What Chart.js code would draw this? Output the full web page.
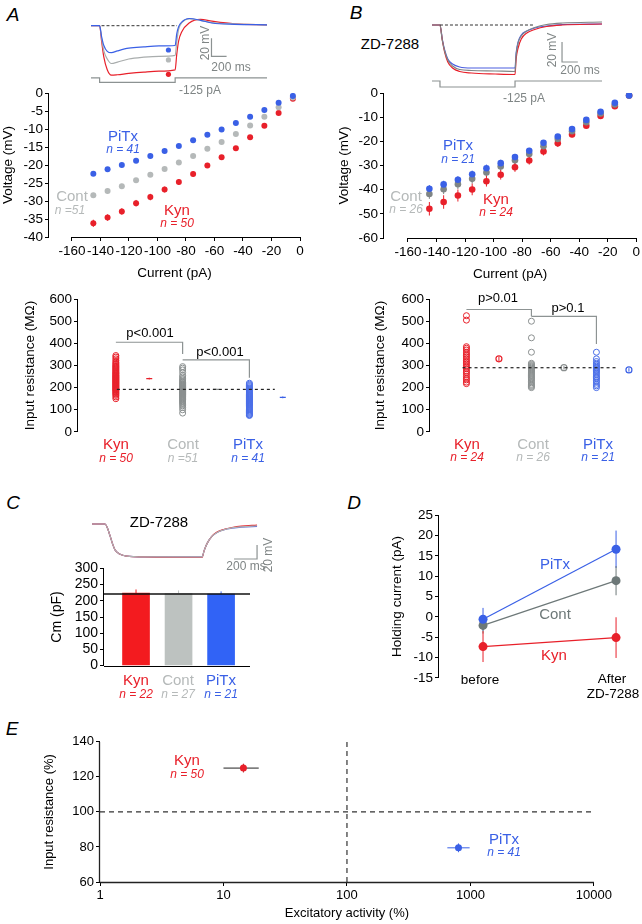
<!DOCTYPE html>
<html><head><meta charset="utf-8">
<script src="https://cdn.jsdelivr.net/npm/chart.js@4.4.0/dist/chart.umd.min.js"></script>
<style>
html,body{margin:0;padding:0;background:#fff;overflow:hidden;width:642px;height:924px}
#fig{position:relative;width:642px;height:924px;font-family:'Liberation Sans',Arial,sans-serif}
#fig canvas{position:absolute}
.t{position:absolute;transform:translate(-50%,-50%);white-space:nowrap;line-height:1}
</style></head><body><div id="fig"></div>
<script>
// ---------------- DATA ----------------
const CURRENT = [-145,-135,-125,-115,-105,-95,-85,-75,-65,-55,-45,-35,-25,-15,-5];
const IV_X_TICKS = [-160,-140,-120,-100,-80,-60,-40,-20,0];
const A_IV_Y_TICKS = [-40,-35,-30,-25,-20,-15,-10,-5,0];
const A_PITX_V = [-22.4,-21.2,-20.0,-18.8,-17.5,-16.1,-14.7,-13.1,-11.6,-10.1,-8.3,-6.6,-4.7,-2.7,-0.8];
const A_CONT_V = [-28.4,-27.2,-25.9,-24.2,-22.7,-21.1,-19.3,-17.5,-15.5,-13.6,-11.4,-9.0,-6.6,-3.9,-1.2];
const A_KYN_V  = [-36.2,-34.6,-32.9,-30.6,-28.9,-26.8,-24.7,-22.5,-20.1,-17.8,-15.3,-12.3,-9.1,-5.5,-1.6];
const A_PITX_E = [0.6,0.6,0.6,0.6,0.6,0.5,0.5,0.5,0.5,0.4,0.4,0.4,0.3,0.3,0.2];
const A_CONT_E = [0.7,0.7,0.7,0.6,0.6,0.6,0.6,0.5,0.5,0.5,0.4,0.4,0.3,0.3,0.2];
const A_KYN_E  = [1.0,0.9,0.9,0.9,0.9,0.8,0.8,0.7,0.7,0.6,0.6,0.5,0.5,0.4,0.3];

const B_IV_Y_TICKS = [-60,-50,-40,-30,-20,-10,0];
const B_PITX_V = [-39.6,-37.8,-35.9,-33.6,-31.1,-29.0,-26.5,-23.9,-20.6,-18.0,-14.9,-11.1,-7.7,-4.0,-1.0];
const B_CONT_V = [-41.8,-39.8,-37.7,-35.5,-32.9,-30.4,-27.8,-25.2,-22.0,-19.0,-15.8,-12.1,-8.4,-4.7,-1.0];
const B_KYN_V  = [-47.9,-45.1,-42.4,-39.9,-36.5,-33.8,-30.7,-27.9,-24.2,-20.8,-17.1,-13.5,-9.5,-5.4,-1.0];
const B_PITX_E = [1.5,1.5,1.5,1.5,1.5,1.4,1.3,1.2,1.1,1.0,1.0,0.9,0.8,0.6,0.4];
const B_CONT_E = [2.0,2.0,2.0,2.0,1.8,1.7,1.6,1.5,1.3,1.2,1.1,1.0,0.8,0.6,0.4];
const B_KYN_E  = [2.8,2.8,2.5,2.4,2.2,2.0,1.9,1.7,1.6,1.4,1.2,1.0,0.9,0.7,0.5];

const RIN_TICKS = [0,100,200,300,400,500,600];
const A_RIN_KYN = [345,338,330,322,315,310,305,300,296,292,288,284,280,276,272,268,265,262,258,255,252,249,246,243,240,237,234,231,228,225,222,219,216,213,210,207,204,201,198,195,192,189,186,182,178,174,170,165,158,150];
const A_RIN_CONT = [295,288,280,268,255,248,240,235,230,225,222,218,215,212,210,207,205,202,200,198,196,194,192,190,188,186,184,182,180,178,176,174,172,170,168,165,162,160,157,154,150,147,144,140,135,130,125,118,110,100,85];
const A_RIN_PITX = [220,215,210,205,200,196,192,188,184,180,176,172,168,165,162,159,156,153,150,147,144,141,138,135,132,129,126,123,120,116,112,108,104,100,96,92,88,84,80,77,74];
const A_RIN_MEAN = [241,192,156];
const A_RIN_SEM = [4,3,4];
const A_RIN_REF = 192;
const A_BRACKET1 = [[1,405],[3,405],[3,352]];
const A_BRACKET2 = [[3,325],[5,325],[5,245]];

const B_RIN_KYN = [525,505,385,378,370,360,352,345,338,330,322,315,308,300,292,285,275,268,260,250,242,235,225,218];
const B_RIN_CONT = [500,425,360,310,305,300,296,292,288,284,280,275,270,265,260,255,250,245,240,235,228,222,215,210,205,200];
const B_RIN_PITX = [360,330,318,310,303,297,292,287,282,277,272,265,258,250,245,240,232,225,215,208,200];
const B_RIN_MEAN = [330,290,280];
const B_RIN_SEM = [10,8,8];
const B_RIN_REF = 290;
const B_BRACKET1 = [[1,553],[3,553],[3,522]];
const B_BRACKET2 = [[3,522],[5,522],[5,397]];

const CM_GROUPS = ['Kyn','Cont','PiTx'];
const CM_VALUES = [224,222,221];
const CM_SEM = [11,10,8];
const CM_REF = 221;
const CM_TICKS = [0,50,100,150,200,250,300];

const HOLD_X = [0,1];
const HOLD_PITX = [-0.6,16.6];
const HOLD_CONT = [-2.1,8.9];
const HOLD_KYN = [-7.3,-5.1];
const HOLD_PITX_E = [2.8,4.6];
const HOLD_CONT_E = [2.0,3.6];
const HOLD_KYN_E = [3.8,5.0];
const HOLD_TICKS = [-15,-10,-5,0,5,10,15,20,25];

const E_X_TICKS = [1,10,100,1000,10000];
const E_Y_TICKS = [60,80,100,120,140];
const E_KYN = {x:14.5, y:125, xLo:10, xHi:19.3, yErr:2.5};
const E_PITX = {x:800, y:79.5, xLo:650, xHi:985, yErr:2.5};

// traces (time in ms, voltage in mV relative to rest)
const A_T = [0,114,140,170,215,270,350,500,700,900,1114,1135,1160,1200,1300,1450,1600,1900,2330];
const A_TR_PITX = [0,0,-12,-22,-28.5,-30,-28,-25,-23.5,-22.5,-22,-9,-1,4,8,6,3,1.5,1];
const A_TR_CONT = [0,0,-14,-28,-37,-42,-40.5,-37,-35,-34,-33,-18,-4,3,7.5,6,3.5,2,1];
const A_TR_KYN  = [0,0,-17,-35,-49,-55,-54.5,-53,-51.5,-50.5,-49,-32,-17,-7,3,7,5,2,1];
const A_DOTS_T = 1025;
const A_DOTS_V = [-27,-38,-54];
const A_STEP_T = [0,114,114,1114,1114,2330];
const STEP_I = [0,0,-125,-125,0,0];

const B_T = [0,101,130,160,200,260,350,500,800,1051,1065,1090,1130,1200,1300,1450,1650,2152];
const B_TR_PITX = [0,0,-14,-25,-34,-39,-42,-43,-43,-43,-28,-17,-10,-6,-3,-1,0.5,1];
const B_TR_CONT = [0,0,-15,-26,-35,-41,-44.5,-45.5,-46,-46.5,-30,-18,-11,-6,-2.5,0.5,2,3];
const B_TR_KYN  = [0,0,-15,-27,-37,-43,-46.5,-48,-49,-49.5,-34,-23,-14,-8,-4.5,-1.5,0,1];
const B_STEP_T = [0,101,101,1051,1051,2152];

const C_T = [0,113,135,157,180,200,240,300,450,957,975,1000,1040,1087,1150,1217,1300,1435];
const C_TR_PITX = [0,0,-6,-17,-29,-37,-43,-46,-47,-47,-38,-28,-18,-12,-8,-6,-4.5,-3.5];
const C_TR_CONT = [0,0,-6,-17,-29,-37,-43,-46,-47,-47,-38,-28,-18,-12,-8,-5.5,-4,-2.5];
const C_TR_KYN  = [0,0,-6,-17,-29,-37,-43,-46,-47,-47.5,-38,-28,-18,-11.5,-7.5,-5,-3,-1.5];

// ---------------- STYLE ----------------
const RED='#e8202a', BLUE='#3a60e6', GRAYL='#b5b9b9', GRAYM='#7f8585', GRAYD='#6d7878', SCALEC='#8c9292';
const BAR_COLORS = ['#f31b1f','#bdc2c0','#3163f6'];
Chart.defaults.font.family = "'Liberation Sans', Arial, Helvetica, sans-serif";
Chart.defaults.font.size = 13.5;
Chart.defaults.color = '#000';
const fig = document.getElementById('fig');

const axisLines = { id:'axisLines', afterDatasetsDraw(chart, args, opts){
  const L = opts.lines; if(!L) return;
  const ctx = chart.ctx, ca = chart.chartArea;
  ctx.save(); ctx.strokeStyle = opts.color || '#000'; ctx.lineWidth = opts.width || 1;
  L.forEach(l => { const s = chart.scales[l.scale]; ctx.beginPath();
    if (s.isHorizontal()) { const y = Math.round(ca.bottom)+0.5; ctx.moveTo(s.getPixelForValue(l.from), y); ctx.lineTo(s.getPixelForValue(l.to), y); }
    else { const x = Math.round(ca.left)-0.5; ctx.moveTo(x, s.getPixelForValue(l.from)); ctx.lineTo(x, s.getPixelForValue(l.to)); }
    ctx.stroke(); });
  ctx.restore(); } };

const errBars = { id:'errBars', beforeDatasetsDraw(chart){
  const ctx = chart.ctx;
  chart.data.datasets.forEach((ds,i) => {
    if (!ds.yErr && !ds.xLo && !ds.yErrUp) return;
    const meta = chart.getDatasetMeta(i); const xs = chart.scales[meta.xAxisID], ys = chart.scales[meta.yAxisID];
    ctx.save(); ctx.lineWidth = ds.errWidth || 1;
    ds.data.forEach((p,j) => { const x = xs.getPixelForValue(p.x), y = ys.getPixelForValue(p.y);
      if (ds.xLo) { ctx.strokeStyle = ds.xErrColor || ds.borderColor; ctx.beginPath(); ctx.moveTo(xs.getPixelForValue(ds.xLo[j]), y); ctx.lineTo(xs.getPixelForValue(ds.xHi[j]), y); ctx.stroke(); }
      const ec = ds.errColor || ds.borderColor;
      ctx.strokeStyle = Array.isArray(ec) ? ec[j] : ec; ctx.beginPath();
      if (ds.yErr) { ctx.moveTo(x, ys.getPixelForValue(p.y - ds.yErr[j])); ctx.lineTo(x, ys.getPixelForValue(p.y + ds.yErr[j])); }
      if (ds.yErrUp) { ctx.moveTo(x, y); ctx.lineTo(x, ys.getPixelForValue(p.y + ds.yErrUp[j])); }
      ctx.stroke(); });
    ctx.restore(); }); } };

function mk(g, type, datasets, scales, lines, lineOpts){
  const c = document.createElement('canvas'); c.width = g.W; c.height = g.H;
  c.style.left = g.L+'px'; c.style.top = g.T+'px'; c.style.width = g.W+'px'; c.style.height = g.H+'px';
  fig.appendChild(c);
  return new Chart(c, { type, data:{datasets}, options:{ responsive:false, animation:false, devicePixelRatio:1, events:[],
    layout:{padding:g.pad||0}, plugins:{legend:{display:false}, tooltip:{enabled:false}, axisLines:Object.assign({lines:lines||[]}, lineOpts||{})}, scales },
    plugins:[axisLines, errBars] });
}
function ax(kind, min, max, ticks, title, size, fs, extra){
  const o = { type: (extra&&extra.type)||'linear', min, max, offset:false,
    afterBuildTicks: s => { s.ticks = ticks.map(v => ({value:v})); },
    afterFit: s => { if (kind==='y') s.width = size; else s.height = size; },
    ticks:{ callback: v => String(v), padding:2, autoSkip:false, maxRotation:0, minRotation:0, font:{size:fs||13.5}, color:'#000' },
    grid:{ display:true, drawOnChartArea:false, drawTicks:true, tickLength:4, color:(extra&&extra.gridColor)||'#000', offset:false },
    border:{ display:false },
    title:{ display:!!title, text:title, padding:0, font:{size:fs||13.5}, color:'#000' } };
  return o;
}
const hid = (min,max) => ({ type:'linear', display:false, min, max, offset:false, grid:{offset:false} });
const pts = (xs, ys) => xs.map((x,i) => ({x, y:ys[i]}));
const col = (x, vals) => vals.map(v => ({x, y:v}));
function txt(s, x, y, size, color, extra){
  const d = document.createElement('div'); d.className = 't'; d.textContent = s;
  d.style.left = x+'px'; d.style.top = y+'px'; d.style.fontSize = size+'px'; d.style.color = color||'#000';
  if (extra) Object.assign(d.style, extra); fig.appendChild(d);
}
const IT = {fontStyle:'italic'};
const ROT = {transform:'translate(-50%,-50%) rotate(-90deg)'};
const line = (data, color, w, dash, order) => ({ data, showLine:true, borderColor:color, backgroundColor:color, borderWidth:w||1.2, borderDash:dash||[], pointRadius:0, order:order||0, tension:0 });
const trace = (T, V, color) => ({ data:pts(T,V), showLine:true, borderColor:color, borderWidth:1.2, pointRadius:0, cubicInterpolationMode:'monotone', order:2 });

// ---------------- PANEL A traces ----------------
mk({L:87,T:10,W:184,H:80}, 'scatter', [
  line([{x:139,y:0},{x:1139,y:0}], '#333', 1, [3,2], 0),
  trace(A_T, A_TR_PITX, BLUE), trace(A_T, A_TR_CONT, '#a9adad'), trace(A_T, A_TR_KYN, RED),
  {data:[{x:A_DOTS_T,y:A_DOTS_V[0]}], backgroundColor:BLUE, borderWidth:0, pointRadius:2.6, order:0},
  {data:[{x:A_DOTS_T,y:A_DOTS_V[1]}], backgroundColor:GRAYL, borderWidth:0, pointRadius:2.6, order:0},
  {data:[{x:A_DOTS_T,y:A_DOTS_V[2]}], backgroundColor:RED, borderWidth:0, pointRadius:2.6, order:0},
  Object.assign(line(pts(A_STEP_T, STEP_I), SCALEC, 1.2), {yAxisID:'y2'}),
  line([{x:1595,y:-14},{x:1595,y:-34},{x:1795,y:-34}], SCALEC, 1.2)
], {x:hid(0,2330), y:hid(-67,13), y2:hid(-225,1775)});
txt('A',13,14,19,'#000',IT);
txt('20 mV',205,43,12,GRAYM,ROT);
txt('200 ms',231,67,12,GRAYM);
txt('-125 pA',200,90,12,GRAYM);

// ---------------- PANEL A IV ----------------
const ivSet = (v, e, c, r) => ({ data:pts(CURRENT, v), yErr:e, backgroundColor:c, borderColor:c, errColor:c, pointRadius:r, borderWidth:0 });
mk({L:0,T:83,W:312,H:198,pad:{left:0,top:9,right:12,bottom:0}}, 'scatter', [
  ivSet(A_PITX_V, A_PITX_E, BLUE, 3), ivSet(A_CONT_V, A_CONT_E, GRAYL, 3), ivSet(A_KYN_V, A_KYN_E, RED, 3)
], { x: ax('x', -176.1, 0, IV_X_TICKS, 'Current (pA)', 44), y: ax('y', -40, 0, A_IV_Y_TICKS, 'Voltage (mV)', 49) },
 [{scale:'x',from:-160,to:0},{scale:'y',from:0,to:-40}]);
txt('PiTx',123,135,15,BLUE); txt('n = 41',123,149,12,BLUE,IT);
txt('Cont',72,195,15,GRAYL); txt('n =51',70,210,12,GRAYL,IT);
txt('Kyn',177,209,15,RED); txt('n = 50',177,223,12,RED,IT);

// ---------------- PANEL A input resistance ----------------
const ring = (x, vals, c) => ({ data:col(x, vals), pointRadius:3, pointStyle:'circle', borderColor:c, backgroundColor:'rgba(0,0,0,0)', borderWidth:1, order:5 });
const meanPt = (x, v, e, c, style) => ({ data:[{x, y:v}], yErr:[e], pointRadius:3, pointStyle:style, borderColor:c, errColor:c, backgroundColor:'rgba(0,0,0,0)', borderWidth:1.2, order:1 });
const br = arr => arr.map(p => ({x:p[0], y:p[1]}));
mk({L:22,T:289,W:276,H:153,pad:{left:0,top:9,right:5,bottom:10}}, 'scatter', [
  line([{x:1.03,y:A_RIN_REF},{x:5.76,y:A_RIN_REF}], '#222', 1.2, [3,3], 0),
  line(br(A_BRACKET1), '#8d9393', 1.2), line(br(A_BRACKET2), '#8d9393', 1.2),
  ring(1, A_RIN_KYN, RED), ring(3, A_RIN_CONT, '#8a8f8f'), ring(5, A_RIN_PITX, '#4a6ee8'),
  meanPt(2, A_RIN_MEAN[0], A_RIN_SEM[0], RED, 'line'), meanPt(4, A_RIN_MEAN[1], A_RIN_SEM[1], '#8a8f8f', 'line'), meanPt(6, A_RIN_MEAN[2], A_RIN_SEM[2], BLUE, 'line')
], { x: hid(-0.134, 6.3), y: ax('y', 0, 600, RIN_TICKS, 'Input resistance (MΩ)', 56) }, [{scale:'y',from:0,to:600}]);
txt('p<0.001',150,332,13); txt('p<0.001',220,351,13);
txt('Kyn',116,443,15,RED); txt('n = 50',116,458,12,RED,IT);
txt('Cont',183,443,15,GRAYL); txt('n =51',183,458,12,GRAYL,IT);
txt('PiTx',248,443,15,BLUE); txt('n = 41',248,458,12,BLUE,IT);

// ---------------- PANEL B traces ----------------
mk({L:432,T:10,W:170,H:80}, 'scatter', [
  line([{x:101,y:0},{x:1278,y:0}], '#333', 1, [3,2], 0),
  trace(B_T, B_TR_CONT, GRAYM), trace(B_T, B_TR_KYN, RED), trace(B_T, B_TR_PITX, '#4a5ee0'),
  Object.assign(line(pts(B_STEP_T, STEP_I), SCALEC, 1.2), {yAxisID:'y2'}),
  line([{x:1646,y:-17},{x:1646,y:-37},{x:1846,y:-37}], SCALEC, 1.2)
], {x:hid(0,2152), y:hid(-65,15), y2:hid(-187.5,1479)});
txt('B',356,12,19,'#000',IT);
txt('ZD-7288',390,43,15);
txt('20 mV',552,50,12,GRAYM,ROT);
txt('200 ms',580,70,12,GRAYM);
txt('-125 pA',524,98,12,GRAYM);

// ---------------- PANEL B IV ----------------
mk({L:336,T:83,W:306,H:199,pad:{left:0,top:9,right:5,bottom:0}}, 'scatter', [
  ivSet(B_PITX_V, B_PITX_E, BLUE, 3.3), ivSet(B_CONT_V, B_CONT_E, GRAYM, 3.3), ivSet(B_KYN_V, B_KYN_E, RED, 3.3)
], { x: ax('x', -176.8, 0, IV_X_TICKS, 'Current (pA)', 44), y: ax('y', -60, 0, B_IV_Y_TICKS, 'Voltage (mV)', 48) },
 [{scale:'x',from:-160,to:0},{scale:'y',from:0,to:-60}]);
txt('PiTx',458,144,15,BLUE); txt('n = 21',458,159,12,BLUE,IT);
txt('Cont',406,195,15,GRAYL); txt('n = 26',406,209,12,GRAYL,IT);
txt('Kyn',496,198,15,RED); txt('n = 24',496,212,12,RED,IT);

// ---------------- PANEL B input resistance ----------------
mk({L:372,T:289,W:270,H:153,pad:{left:0,top:9,right:2,bottom:10}}, 'scatter', [
  line([{x:0.88,y:B_RIN_REF},{x:5.6,y:B_RIN_REF}], '#222', 1.2, [3,3], 0),
  line(br(B_BRACKET1), '#8d9393', 1.2), line(br(B_BRACKET2), '#8d9393', 1.2),
  ring(1, B_RIN_KYN, RED), ring(3, B_RIN_CONT, '#8a8f8f'), ring(5, B_RIN_PITX, '#4a6ee8'),
  meanPt(2, B_RIN_MEAN[0], B_RIN_SEM[0], RED, 'circle'), meanPt(4, B_RIN_MEAN[1], B_RIN_SEM[1], '#8a8f8f', 'circle'), meanPt(6, B_RIN_MEAN[2], B_RIN_SEM[2], BLUE, 'circle')
], { x: hid(-0.121, 6.242), y: ax('y', 0, 600, RIN_TICKS, 'Input resistance (MΩ)', 58) }, [{scale:'y',from:0,to:600}]);
txt('p>0.01',498,297,13); txt('p>0.1',568,307,13);
txt('Kyn',467,443,15,RED); txt('n = 24',467,457,12,RED,IT);
txt('Cont',533,443,15,GRAYL); txt('n = 26',533,457,12,GRAYL,IT);
txt('PiTx',598,443,15,BLUE); txt('n = 21',598,457,12,BLUE,IT);

// ---------------- PANEL C ----------------
mk({L:92,T:518,W:170,H:48}, 'scatter', [
  trace(C_T, C_TR_CONT, '#b0b3b3'), trace(C_T, C_TR_KYN, RED), trace(C_T, C_TR_PITX, '#5662e0'),
  line([{x:1235,y:-50},{x:1435,y:-50},{x:1435,y:-30}], SCALEC, 1.2)
], {x:hid(0,1478), y:hid(-60,8.6)});
txt('C',13,502,19,'#000',IT);
txt('ZD-7288',159,521,15);
txt('20 mV',268,555,12,GRAYM,ROT);
txt('200 ms',246,566,12,GRAYM);

mk({L:49,T:558,W:206,H:118,pad:{left:0,top:9,right:5,bottom:10}}, 'bar', [
  { type:'line', data:[{x:0.247,y:CM_REF},{x:3.68,y:CM_REF}], borderColor:'#111', borderWidth:1.3, pointRadius:0, order:0 },
  { type:'bar', label:'Cm', data:CM_VALUES.map((v,i) => ({x:i+1, y:v})), backgroundColor:BAR_COLORS, borderColor:BAR_COLORS,
    errColor:BAR_COLORS, yErrUp:CM_SEM, barThickness:27, maxBarThickness:27, barPercentage:1, categoryPercentage:1, grouped:false, order:3 }
], { x: hid(0.247, 3.68), y: ax('y', 0, 300, CM_TICKS, 'Cm (pF)', 55, 14) },
 [{scale:'x',from:0.247,to:3.68},{scale:'y',from:0,to:300}]);
txt('Kyn',136,679,15,RED); txt('n = 22',136,694,12,RED,IT);
txt('Cont',178,679,15,GRAYL); txt('n = 27',178,694,12,GRAYL,IT);
txt('PiTx',221,679,15,BLUE); txt('n = 21',221,694,12,BLUE,IT);

// ---------------- PANEL D ----------------
const hold = (v, e, c) => ({ data:pts(HOLD_X, v), yErr:e, showLine:true, borderColor:c, backgroundColor:c, errColor:c, borderWidth:1.2, pointRadius:4.5, pointBorderWidth:0 });
mk({L:389,T:505,W:253,H:183,pad:{left:0,top:9,right:6,bottom:10}}, 'scatter', [
  hold(HOLD_PITX, HOLD_PITX_E, BLUE), hold(HOLD_CONT, HOLD_CONT_E, GRAYD), hold(HOLD_KYN, HOLD_KYN_E, RED)
], { x: hid(-0.331, 1.15), y: ax('y', -15, 25, HOLD_TICKS, 'Holding current (pA)', 50) }, [{scale:'y',from:-15,to:25}]);
txt('D',354,502,19,'#000',IT);
txt('PiTx',555,563,15,BLUE); txt('Cont',555,613,15,GRAYD); txt('Kyn',554,654,15,RED);
txt('before',480,680,13.5); txt('After',612,679,13.5); txt('ZD-7288',613,694,13.5);

// ---------------- PANEL E ----------------
mk({L:42,T:732,W:572,H:189,pad:{left:0,top:9,right:20,bottom:0}}, 'scatter', [
  line([{x:1,y:100},{x:10000,y:100}], '#333', 1.2, [5,4], 3),
  line([{x:100,y:60},{x:100,y:140}], '#333', 1.2, [5,4], 3),
  { data:[{x:E_KYN.x, y:E_KYN.y}], xLo:[E_KYN.xLo], xHi:[E_KYN.xHi], yErr:[E_KYN.yErr], xErrColor:'#222', errColor:'#b0202a', backgroundColor:RED, borderColor:RED, pointRadius:3.5, borderWidth:0, order:0 },
  { data:[{x:E_PITX.x, y:E_PITX.y}], xLo:[E_PITX.xLo], xHi:[E_PITX.xHi], yErr:[E_PITX.yErr], xErrColor:BLUE, errColor:BLUE, backgroundColor:BLUE, borderColor:BLUE, pointRadius:3.5, borderWidth:0, order:0 }
], { x: ax('x', 1, 10000, E_X_TICKS, 'Excitatory activity (%)', 39, 13, {type:'logarithmic'}), y: ax('y', 60, 140, E_Y_TICKS, 'Input resistance (%)', 58, 13) },
 [{scale:'x',from:1,to:10000},{scale:'y',from:60,to:140}], {color:'#222', width:1.3});
txt('E',12,728,19,'#000',IT);
txt('Kyn',187,759,15,RED); txt('n = 50',187,774,12,RED,IT);
txt('PiTx',504,838,15,BLUE); txt('n = 41',504,852,12,BLUE,IT);
</script></body></html>
